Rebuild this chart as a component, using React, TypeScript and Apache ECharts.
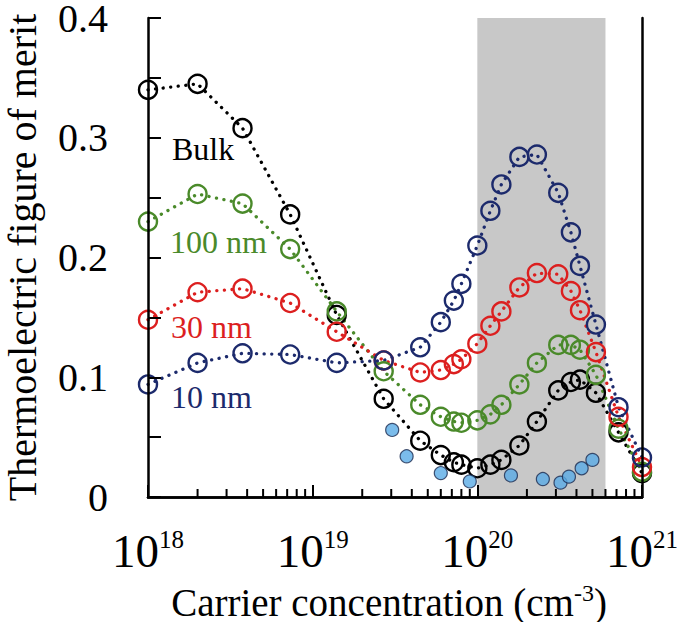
import React, { useEffect, useRef } from "react";
import * as echarts from "echarts";

const concentration = [1e18, 2e18, 3.75e18, 7.3e18, 1.4e19, 2.7e19, 4.5e19, 6e19, 7.2e19, 8e19, 1e20, 1.2e20, 1.4e20, 1.8e20, 2.3e20, 3.1e20, 3.7e20, 4.2e20, 5.25e20, 7.2e20, 1e21];
const bulk = [0.340, 0.345, 0.308, 0.236, 0.152, 0.082, 0.047, 0.035, 0.029, 0.027, 0.024, 0.027, 0.031, 0.043, 0.063, 0.089, 0.096, 0.098, 0.087, 0.054, 0.020];
const nm100 = [0.230, 0.253, 0.245, 0.207, 0.155, 0.105, 0.077, 0.067, 0.063, 0.062, 0.064, 0.069, 0.077, 0.094, 0.112, 0.127, 0.127, 0.123, 0.102, 0.057, 0.021];
const nm30 = [0.148, 0.171, 0.174, 0.162, 0.138, 0.114, 0.104, 0.106, 0.111, 0.115, 0.128, 0.143, 0.155, 0.175, 0.187, 0.186, 0.172, 0.156, 0.121, 0.067, 0.025];
const nm10 = [0.094, 0.112, 0.120, 0.119, 0.112, 0.114, 0.125, 0.146, 0.164, 0.178, 0.210, 0.239, 0.261, 0.284, 0.286, 0.254, 0.221, 0.193, 0.144, 0.075, 0.033];

const expConc = [3.04e19, 3.72e19, 6e19, 9e19, 1.6e20, 2.5e20, 3.2e20, 3.6e20, 4.3e20, 5e20];
const expZT = [0.056, 0.034, 0.020, 0.013, 0.018, 0.015, 0.012, 0.017, 0.024, 0.031];

const bandRange = [1e20, 6e20];
const minorTickPositions = [2, 3, 4, 5, 6, 7, 8, 9].flatMap((m) => [m * 1e18, m * 1e19, m * 1e20]);
const yTickLabels = ["0", "0.1", "0.2", "0.3", "0.4"];

const seriesDefs = [
  { name: "Bulk", data: bulk, color: "#000000" },
  { name: "100 nm", data: nm100, color: "#4a8a2a" },
  { name: "30 nm", data: nm30, color: "#dc1f1f" },
  { name: "10 nm", data: nm10, color: "#1c2a6c" },
];

const FONT = "Liberation Serif";

export default function App() {
  const ref = useRef<HTMLDivElement>(null);
  useEffect(() => {
    if (!ref.current) return;
    document.body.style.margin = "0";
    document.body.style.overflow = "hidden";
    const chart = echarts.init(ref.current, undefined, { renderer: "svg" });
    const lineSeries = seriesDefs.map((s) => ({
      type: "line",
      name: s.name,
      data: concentration.map((c, i) => [c, s.data[i]]),
      symbol: "circle",
      symbolSize: 18,
      itemStyle: { color: "rgba(0,0,0,0)", borderColor: s.color, borderWidth: 2.4 },
      lineStyle: { color: s.color, width: 3.3, type: [0.1, 7.5], cap: "round" },
      z: 3,
    }));
    const annot = (text: string, left: number, top: number, color: string) => ({
      text,
      left,
      top,
      padding: 0,
      z: 10,
      textStyle: { fontSize: 32, fontFamily: FONT, fontWeight: "normal", color },
    });
    const option: any = {
      animation: false,
      title: [
        annot("Bulk", 172, 133, "#000000"),
        annot("100 nm", 170, 226, "#4a8a2a"),
        annot("30 nm", 171, 311, "#dc1f1f"),
        annot("10 nm", 171, 381, "#1c2a6c"),
      ],
      grid: { left: 148, top: 18, width: 494, height: 479, show: false, containLabel: false, outerBoundsMode: "none" },
      xAxis: [
        {
          type: "log",
          logBase: 10,
          min: 1e18,
          max: 1e21,
          z: 5,
          axisLine: { show: true, lineStyle: { color: "#000", width: 2.5 } },
          axisTick: { show: true, inside: true, length: 12, lineStyle: { color: "#000", width: 2 } },
          splitLine: { show: false },
          axisLabel: {
            margin: 30,
            formatter: (v: number) => `{b|10}{s|${Math.round(Math.log10(v))}}`,
            rich: {
              b: { fontSize: 47, fontFamily: FONT, color: "#000" },
              s: { fontSize: 25, fontFamily: FONT, color: "#000", verticalAlign: "top", padding: [0, 0, 22, 0] },
            },
          },
          name: "{t|Carrier concentration (cm}{s|-3}{t|)}",
          nameLocation: "middle",
          nameGap: 84,
          nameTextStyle: {
            padding: [0, 12, 0, 0],
            rich: {
              t: { fontSize: 39, fontFamily: FONT, color: "#000" },
              s: { fontSize: 24, fontFamily: FONT, color: "#000", verticalAlign: "top", padding: [0, 0, 18, 0] },
            },
          },
        },
        {
          type: "log",
          logBase: 10,
          min: 1e18,
          max: 1e21,
          position: "top",
          z: 5,
          axisLine: { show: true, lineStyle: { color: "#000", width: 2.5 } },
          axisTick: { show: false },
          axisLabel: { show: false },
          splitLine: { show: false },
        },
      ],
      yAxis: [
        {
          type: "value",
          min: 0,
          max: 0.4,
          interval: 0.05,
          z: 5,
          axisLine: { show: true, lineStyle: { color: "#000", width: 2.5 } },
          axisTick: { show: true, inside: true, length: 13, lineStyle: { color: "#000", width: 2 } },
          splitLine: { show: false },
          axisLabel: {
            margin: 40,
            fontSize: 40,
            lineHeight: 34,
            fontFamily: FONT,
            color: "#000",
            formatter: (v: number) => {
              const r = Math.round(v * 100);
              return r % 10 === 0 ? yTickLabels[r / 10] : "";
            },
          },
          name: "Thermoelectric figure of merit",
          nameLocation: "middle",
          nameGap: 106,
          nameRotate: 90,
          nameTextStyle: { fontSize: 40, fontFamily: FONT, color: "#000" },
        },
        {
          type: "value",
          min: 0,
          max: 0.4,
          position: "right",
          z: 5,
          axisLine: { show: true, lineStyle: { color: "#000", width: 2.5 } },
          axisTick: { show: false },
          axisLabel: { show: false },
          splitLine: { show: false },
        },
      ],
      series: [
        {
          type: "custom",
          name: "minor",
          data: minorTickPositions.map((p) => [p, 0]),
          encode: { x: 0, y: 1 },
          z: 4,
          silent: true,
          renderItem: (params: any, api: any) => {
            const p = api.coord([api.value(0), 0]);
            return {
              type: "line",
              shape: { x1: p[0], y1: p[1], x2: p[0], y2: p[1] - 8 },
              style: { stroke: "#000", lineWidth: 2 },
            };
          },
          markArea: {
            silent: true,
            itemStyle: { color: "#c8c8c8" },
            data: [[{ xAxis: bandRange[0], yAxis: 0 }, { xAxis: bandRange[1], yAxis: 0.4 }]],
            z: 1,
          },
        },
        ...lineSeries,
        {
          type: "scatter",
          name: "experiment",
          data: expConc.map((c, i) => [c, expZT[i]]),
          symbol: "circle",
          symbolSize: 13,
          itemStyle: { color: "#5aabe6", borderColor: "#1a2a50", borderWidth: 1.2 },
          z: 3,
        },
      ],
    };
    chart.setOption(option);
    return () => chart.dispose();
  }, []);
  return <div ref={ref} style={{ position: "absolute", left: 0, top: 0, width: 677, height: 622 }} />;
}
